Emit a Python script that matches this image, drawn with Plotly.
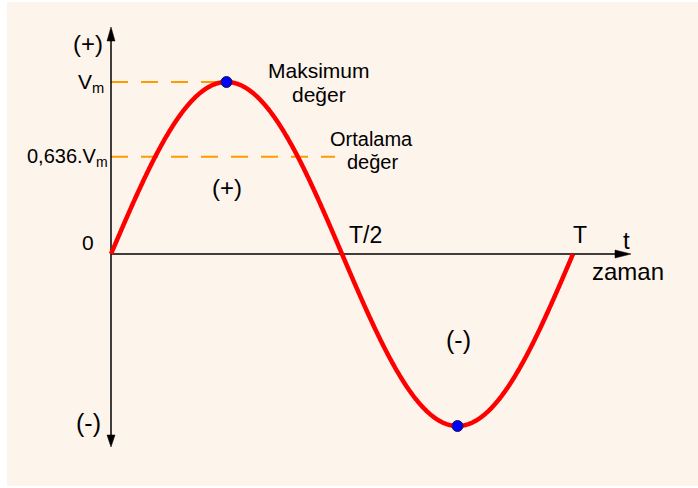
import numpy as np
import plotly.graph_objects as go

# ---- data ----
period = 1.0          # T
vm = 1.0              # Vm
avg_level = 0.565     # position of the "0,636.Vm" line as drawn in the picture
t_points = np.linspace(0, period, 801)
v_points = vm * np.sin(2 * np.pi * t_points / period)
peak_t = [period / 4, 3 * period / 4]
peak_v = [vm, -vm]
vm_line_t = [0, period / 4]
avg_line_t = [0, 0.485]

W, H = 698, 488
X0, SX = 111, 462      # pixel of t=0, pixels per T
Y0, SY = 254, 172      # pixel of v=0, pixels per Vm

def tx(px):
    return (px - X0) / SX

def vy(py):
    return (Y0 - py) / SY

fig = go.Figure()

# dashed guides
fig.add_trace(go.Scatter(x=vm_line_t, y=[vm, vm], mode="lines",
                         line=dict(color="#FF9A00", width=2, dash="17px,13px"),
                         hoverinfo="skip", showlegend=False))
fig.add_trace(go.Scatter(x=avg_line_t, y=[avg_level, avg_level], mode="lines",
                         line=dict(color="#FF9A00", width=2, dash="17px,13px"),
                         hoverinfo="skip", showlegend=False))

# axes lines
fig.add_trace(go.Scatter(x=[0, 0], y=[vy(40), vy(436)], mode="lines",
                         line=dict(color="black", width=1.5),
                         hoverinfo="skip", showlegend=False))
fig.add_trace(go.Scatter(x=[0, tx(618)], y=[0, 0], mode="lines",
                         line=dict(color="black", width=1.5),
                         hoverinfo="skip", showlegend=False))

# sine curve
fig.add_trace(go.Scatter(x=t_points, y=v_points, mode="lines",
                         line=dict(color="#FF0000", width=4.5, simplify=False),
                         hoverinfo="skip", showlegend=False))
fig.add_trace(go.Scatter(x=peak_t, y=peak_v, mode="markers",
                         marker=dict(color="#0000FF", size=11,
                                     line=dict(color="#1a1a40", width=1)),
                         hoverinfo="skip", showlegend=False))

# arrow heads
def tri(points):
    p = "M " + " L ".join(f"{tx(a)},{vy(b)}" for a, b in points) + " Z"
    return dict(type="path", path=p, xref="x", yref="y",
                fillcolor="black", line=dict(color="black", width=0.5))

shapes = [
    dict(type="rect", xref="paper", yref="paper", x0=7 / W, x1=1, y0=2 / H, y1=1 - 2 / H,
         fillcolor="#FDF4EB", line=dict(width=0), layer="below"),
    tri([(111, 27), (107, 41), (115, 41)]),
    tri([(111, 447), (107, 435), (115, 435)]),
    tri([(631, 254), (615, 250), (615, 258)]),
]

FONT = "Liberation Sans, Arial, sans-serif"

def lab(text, x, y, size, xanchor="center"):
    return dict(text=text, x=x / W, y=1 - y / H, xref="paper", yref="paper",
                xanchor=xanchor, yanchor="middle", showarrow=False,
                font=dict(family=FONT, size=size, color="black"))

annotations = [
    lab("(+)", 88, 44, 24),
    lab("V<sub>m</sub>", 106, 83, 21, "right"),
    lab("0,636.V<sub>m</sub>", 110, 157, 20, "right"),
    lab("0", 88, 242, 21),
    lab("Maksimum", 319, 71, 21),
    lab("değer", 319, 94, 21),
    lab("Ortalama", 371, 139, 20),
    lab("değer", 372, 162, 20),
    lab("(+)", 227, 187, 24),
    lab("T/2", 366, 235, 23),
    lab("T", 580, 235, 23),
    lab("t", 626, 240, 24),
    lab("zaman", 628, 271, 24),
    lab("(-)", 458, 340, 25),
    lab("(-)", 88, 423, 25),
]

fig.update_layout(
    width=W, height=H, margin=dict(l=0, r=0, t=0, b=0),
    paper_bgcolor="white", plot_bgcolor="rgba(0,0,0,0)",
    xaxis=dict(range=[tx(0), tx(W)], visible=False, fixedrange=True),
    yaxis=dict(range=[vy(H), vy(0)], visible=False, fixedrange=True),
    shapes=shapes, annotations=annotations, showlegend=False,
)

fig.write_html("out.html", config={"displayModeBar": False},
               post_script="document.body.style.margin='0';")
